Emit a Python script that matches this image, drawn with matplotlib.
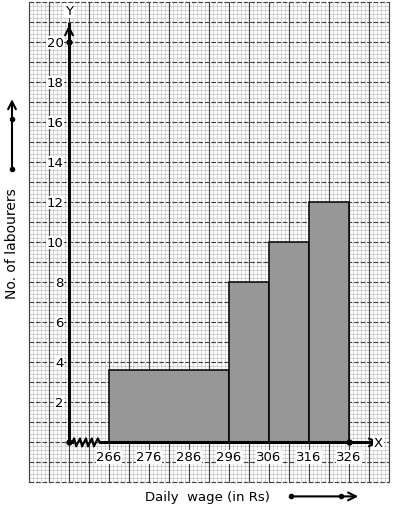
import numpy as np
import matplotlib.pyplot as plt

# wage classes (left edge, right edge) and number of labourers
edges_left = [266, 296, 306, 316]
edges_right = [296, 306, 316, 326]
labourers = [3.6, 8, 10, 12]

xticks = [266, 276, 286, 296, 306, 316, 326]
yticks = [2, 4, 6, 8, 10, 12, 14, 16, 18, 20]

fig = plt.figure(figsize=(3.94, 5.10), dpi=100)
ax = fig.add_axes([0, 0, 1, 1])
ax.set_xlim(238.75, 337.25)
ax.set_ylim(-3.33, 22.17)
ax.axis('off')

# graph paper
x0, x1 = 246, 336
y0, y1 = -2, 22
for xv in np.arange(x0, x1 + 0.5, 1):
    if (xv - x0) % 5 == 0:
        continue
    ax.plot([xv, xv], [y0, y1], color='#cccccc', lw=0.6, zorder=1)
for yv in np.arange(y0, y1 + 0.01, 0.2):
    if abs(yv - round(yv)) < 1e-6:
        continue
    ax.plot([x0, x1], [yv, yv], color='#cccccc', lw=0.6, zorder=1)
for xv in np.arange(x0, x1 + 0.5, 5):
    ax.plot([xv, xv], [y0, y1], color='#444444', lw=0.85, zorder=2)
for yv in np.arange(y0, y1 + 0.5, 1):
    ax.plot([x0, x1], [yv, yv], color='#444444', lw=0.85, ls=(0, (4, 1.5)), zorder=2)

# histogram bars
widths = [r - l for l, r in zip(edges_left, edges_right)]
ax.bar(edges_left, labourers, width=widths, align='edge', color='#979797',
       edgecolor='black', linewidth=1.1, zorder=3)

# axes
ax.plot([256, 256], [0, 20.9], color='black', lw=2.2, zorder=5)
ax.plot([256, 256.8], [0, 0], color='black', lw=2.2, zorder=5)
ax.plot([263.7, 334.0], [0, 0], color='black', lw=2.2, zorder=5)
zx = np.linspace(256.8, 263.7, 15)
zy = np.array([0, 0.2, -0.2] * 5)[:15]
zy[0] = 0
zy[-1] = 0
ax.plot(zx, zy, color='black', lw=1.5, zorder=5)
ax.annotate('', xy=(256, 21.0), xytext=(256, 20.3),
            arrowprops=dict(arrowstyle='->', lw=1.5, color='black',
                            mutation_scale=14), zorder=6)
ax.annotate('', xy=(334.2, 0), xytext=(332.5, 0),
            arrowprops=dict(arrowstyle='->', lw=1.5, color='black',
                            mutation_scale=14), zorder=6)
ax.plot([256, 256, 326], [0, 20, 0], 'o', color='black', ms=3.5, zorder=6)
ax.text(256, 21.6, 'Y', ha='center', va='center', fontsize=9.5,
        bbox=dict(facecolor='white', edgecolor='none', pad=0.5), zorder=7)
ax.text(333.4, 0, 'X', ha='center', va='center', fontsize=9.5,
        bbox=dict(facecolor='white', edgecolor='none', pad=0.5), zorder=7)

for yv in yticks:
    ax.text(254.6, yv, str(yv), ha='right', va='center', fontsize=9.5,
            bbox=dict(facecolor='white', edgecolor='none', pad=0.3), zorder=7)
for xv in xticks:
    ax.text(xv, -0.72, str(xv), ha='center', va='center', fontsize=9.5,
            bbox=dict(facecolor='white', edgecolor='none', pad=0.3), zorder=7)

# axis titles with arrows
ax.text(290.5, -2.7, 'Daily  wage (in Rs)', ha='center', va='center', fontsize=9.5)
ax.annotate('', xy=(329, -2.7), xytext=(311.5, -2.7),
            arrowprops=dict(arrowstyle='->', lw=1.5, color='black',
                            mutation_scale=14))
ax.plot([311.5, 324], [-2.7, -2.7], 'o', color='black', ms=3)

ax.text(241.75, 10.0, 'No. of labourers', rotation=90, ha='center',
        va='center', fontsize=10)
ax.annotate('', xy=(241.75, 17.3), xytext=(241.75, 13.65),
            arrowprops=dict(arrowstyle='->', lw=1.5, color='black',
                            mutation_scale=14))
ax.plot([241.75, 241.75], [13.65, 16.15], 'o', color='black', ms=3)

plt.savefig('out.png', dpi=100)
